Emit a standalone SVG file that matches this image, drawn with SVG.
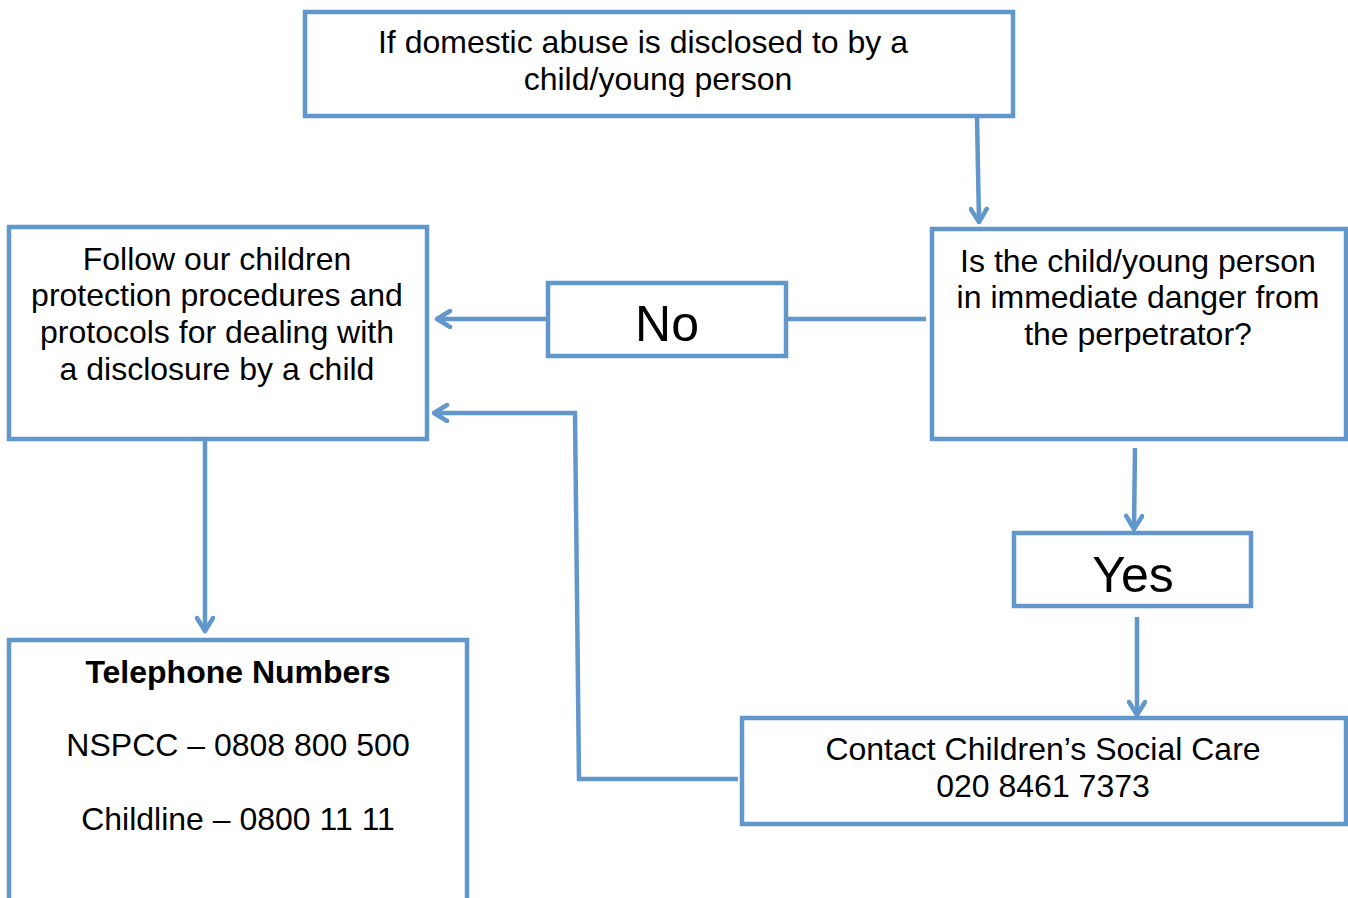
<svg xmlns="http://www.w3.org/2000/svg" width="1348" height="898" viewBox="0 0 1348 898">
<style>
.box{fill:#fff;stroke:#6197cb;stroke-width:4.5}
.ln{fill:none;stroke:#6197cb;stroke-width:4.5}
text{font-family:"Liberation Sans",Arial,sans-serif;font-size:32px;fill:#000;text-anchor:middle}
.big{font-size:50px}
.b{font-weight:bold}
</style>
<defs>
<marker id="ah" viewBox="0 0 20 20" refX="17" refY="10" markerWidth="20" markerHeight="20" markerUnits="userSpaceOnUse" orient="auto">
<path d="M4,2 L17,10 L4,18" fill="none" stroke="#6197cb" stroke-width="4.5" stroke-linecap="round" stroke-linejoin="round"/>
</marker>
</defs>
<rect width="1348" height="898" fill="#fff"/>
<g id="connectors">
<line class="ln" x1="977" y1="118" x2="979" y2="222" marker-end="url(#ah)"/>
<line class="ln" x1="786" y1="319" x2="926" y2="319"/>
<line class="ln" x1="548" y1="319" x2="437" y2="319" marker-end="url(#ah)"/>
<line class="ln" x1="205" y1="441" x2="205" y2="631" marker-end="url(#ah)"/>
<line class="ln" x1="1135" y1="448" x2="1134" y2="529" marker-end="url(#ah)"/>
<line class="ln" x1="1137" y1="617" x2="1137" y2="715" marker-end="url(#ah)"/>
<polyline class="ln" points="738,779 579,779 575,413 434,413" marker-end="url(#ah)"/>
</g>
<g id="start">
<rect class="box" x="305" y="12" width="708" height="104"/>
<text x="643" y="53">If domestic abuse is disclosed to by a</text>
<text x="658" y="90">child/young person</text>
</g>
<g id="danger">
<rect class="box" x="932" y="229" width="414" height="210"/>
<text x="1138" y="272">Is the child/young person</text>
<text x="1138" y="308">in immediate danger from</text>
<text x="1138" y="345">the perpetrator?</text>
</g>
<g id="no">
<rect class="box" x="548" y="283" width="238" height="73"/>
<text class="big" x="667" y="341">No</text>
</g>
<g id="procedures">
<rect class="box" x="9" y="227" width="418" height="212"/>
<text x="217" y="270">Follow our children</text>
<text x="217" y="306">protection procedures and</text>
<text x="217" y="343">protocols for dealing with</text>
<text x="217" y="380">a disclosure by a child</text>
</g>
<g id="telephone">
<rect class="box" x="9" y="640" width="458" height="270"/>
<text class="b" x="238" y="683">Telephone Numbers</text>
<text x="238" y="756">NSPCC – 0808 800 500</text>
<text x="238" y="830">Childline – 0800 11 11</text>
</g>
<g id="yes">
<rect class="box" x="1014" y="533" width="237" height="73"/>
<text class="big" x="1133" y="592">Yes</text>
</g>
<g id="contact">
<rect class="box" x="742" y="718" width="604" height="106"/>
<text x="1043" y="760">Contact Children’s Social Care</text>
<text x="1043" y="797">020 8461 7373</text>
</g>
</svg>
